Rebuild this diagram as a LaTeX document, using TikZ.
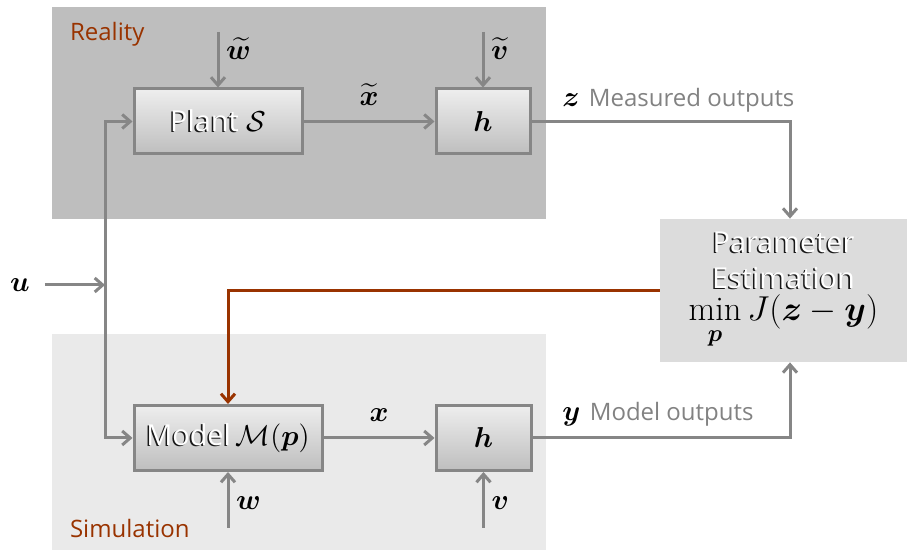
\documentclass[tikz,border=0pt]{standalone}
\usepackage{amsmath,amssymb,bm}
\usepackage{fontspec}
\setsansfont{Open Sans}
\usepackage{tikz}
\usetikzlibrary{arrows.meta,positioning,calc}
\definecolor{RealityGray}{RGB}{190,190,190}
\definecolor{SimGray}{RGB}{234,234,234}
\definecolor{EstGray}{RGB}{220,220,220}
\definecolor{WireGray}{RGB}{134,134,134}
\definecolor{TextGray}{RGB}{130,130,130}
\definecolor{RustRed}{RGB}{153,51,0}
\definecolor{BoxTop}{RGB}{238,238,238}
\definecolor{BoxBottom}{RGB}{190,190,190}
\newcommand{\embossed}[1]{\rlap{\kern-0.8pt\raisebox{-0.6pt}{\textcolor{black!90}{#1}}}\textcolor{white}{#1}}

\begin{document}
\begin{tikzpicture}[x=0.5pt,y=-0.5pt,>={Straight Barb[length=4pt,width=7pt]},
    block/.style={draw=WireGray,line width=1.5pt,top color=BoxTop,bottom color=BoxBottom,
      minimum height=32.5pt,inner sep=2pt,font=\Large\sffamily},
    flow/.style={->,WireGray,line width=1.5pt},
    tag/.style={font=\large\sffamily,text=RustRed,anchor=base west},
    sig/.style={font=\Large,text=black}]
      \useasboundingbox (0,0) rectangle (907,550);
      % backgrounds
      \fill[RealityGray] (52,7) rectangle (546,219);
      \fill[SimGray] (52,334) rectangle (546,550);
      \node[tag] (reality) at (63,41) {Reality};
      \node[tag] (simulation) at (63,538) {Simulation};
      % blocks
      \node[block,minimum width=84pt] (plant) at (218,121.5) {\embossed{Plant} $\mathcal{S}$};
      \node[block,minimum width=47pt] (hS) at (483,121.5) {$\boldsymbol h$};
      \node[block,minimum width=94pt] (model) at (228,438) {\embossed{Model}\,$\mathcal{M}(\boldsymbol p)$};
      \node[block,minimum width=47.5pt] (hM) at (483.5,438) {$\boldsymbol h$};
      \node[fill=EstGray,minimum width=123.5pt,minimum height=71.5pt,align=center,
        font=\Large\sffamily] (est) at (783.5,290.5)
        {\embossed{Parameter}\\\embossed{Estimation}\\[-2pt]
         \LARGE$\displaystyle\min_{\boldsymbol p} J(\boldsymbol z-\boldsymbol y)$};
      % input
      \node[sig] (u) at (20,285) {$\boldsymbol u$};
      \coordinate (ujoin) at (105,285);
      \draw[flow,shorten <=4pt] (u.east) -- (ujoin);
      \draw[flow] (ujoin) |- (plant.west);
      \draw[flow] (ujoin) |- (model.west);
      % disturbances
      \coordinate (wtin) at (218,32);
      \coordinate (vtin) at (483,32);
      \coordinate (win) at (228,528);
      \coordinate (vin) at (483.5,528);
      \draw[flow] (wtin) -- node[sig,right,pos=0.3]{$\widetilde{\boldsymbol w}$} (plant.north);
      \draw[flow] (vtin) -- node[sig,right,pos=0.3]{$\widetilde{\boldsymbol v}$} (hS.north);
      \draw[flow] (win) -- node[sig,right,pos=0.45]{$\boldsymbol w$} (model.south);
      \draw[flow] (vin) -- node[sig,right,pos=0.45]{$\boldsymbol v$} (hM.south);
      % states
      \draw[flow] (plant) -- node[sig,above=4pt]{$\widetilde{\boldsymbol x}$} (hS);
      \draw[flow] (model) -- node[sig,above=4pt]{$\boldsymbol x$} (hM);
      % outputs
      \draw[flow] (hS) -| ([xshift=3.25pt]est.north);
      \draw[flow] (hM) -| ([xshift=3.25pt]est.south);
      \node[anchor=base west,inner sep=0pt] (zlabel) at (562,107)
        {\Large$\boldsymbol z$ \textcolor{TextGray}{\large\sffamily Measured outputs}};
      \node[anchor=base west,inner sep=0pt] (ylabel) at (562,421)
        {\Large$\boldsymbol y$ \textcolor{TextGray}{\large\sffamily Model outputs}};
      % estimated parameters
      \draw[->,RustRed,line width=1.5pt] (est.west) -| (model.north);
\end{tikzpicture}
\end{document}
